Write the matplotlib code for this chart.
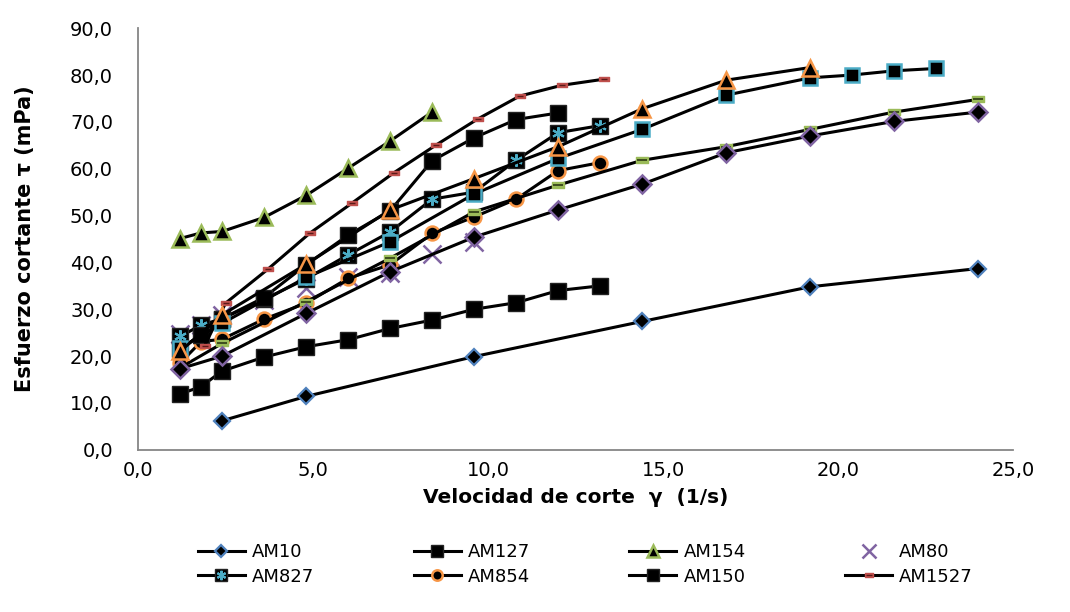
import numpy as np
import matplotlib.pyplot as plt
from matplotlib.path import Path
from matplotlib.ticker import FuncFormatter, MultipleLocator
from matplotlib.legend_handler import HandlerTuple

# Shear rate (1/s) and shear stress (mPa)
am10_x = [2.4, 4.8, 9.6, 14.4, 19.2, 24.0]
am10_y = [6.2, 11.4, 19.9, 27.4, 34.8, 38.7]

am127_x = [1.2, 1.8, 2.4, 3.6, 4.8, 6.0, 7.2, 8.4, 9.6, 10.8, 12.0, 13.2]
am127_y = [11.9, 13.5, 16.8, 19.8, 22.0, 23.5, 25.9, 27.7, 30.0, 31.4, 34.0, 35.0]

am154_x = [1.2, 1.8, 2.4, 3.6, 4.8, 6.0, 7.2, 8.4]
am154_y = [45.1, 46.3, 46.6, 49.6, 54.3, 60.1, 65.9, 72.1]

am80_x = [1.2, 1.8, 2.4, 3.6, 4.8, 6.0, 7.2, 8.4, 9.6]
am80_y = [24.7, 26.7, 28.8, 32.0, 34.6, 36.8, 37.8, 41.8, 44.4]

am827_x = [1.2, 1.8, 2.4, 3.6, 4.8, 6.0, 7.2, 8.4, 9.6, 10.8, 12.0, 13.2]
am827_y = [24.2, 26.6, 28.0, 32.1, 36.5, 41.6, 46.5, 53.5, 55.0, 61.8, 67.7, 69.2]

am854_x = [1.2, 1.8, 2.4, 3.6, 4.8, 6.0, 7.2, 8.4, 9.6, 10.8, 12.0, 13.2]
am854_y = [18.5, 23.1, 23.6, 27.9, 31.3, 36.6, 39.5, 46.2, 49.7, 53.5, 59.6, 61.3]

am150_x = [1.2, 1.8, 2.4, 3.6, 4.8, 6.0, 7.2, 8.4, 9.6, 10.8, 12.0]
am150_y = [21.5, 24.5, 28.0, 32.5, 39.5, 45.8, 51.0, 61.7, 66.6, 70.5, 71.9]

am1527_x = [1.9, 2.5, 3.7, 4.9, 6.1, 7.3, 8.5, 9.7, 10.9, 12.1, 13.3]
am1527_y = [22.2, 31.3, 38.5, 46.2, 52.6, 59.1, 65.0, 70.6, 75.5, 77.8, 79.1]

# series that did not make it into the legend
s9_x = [1.2, 2.4, 4.8, 7.2, 9.6, 12.0, 14.4, 16.8, 19.2, 21.6, 24.0]
s9_y = [17.5, 22.7, 31.6, 40.9, 50.8, 56.5, 61.8, 64.7, 68.4, 72.1, 74.8]

s10_x = [1.2, 2.4, 4.8, 7.2, 9.6, 12.0, 14.4, 16.8, 19.2, 21.6, 24.0]
s10_y = [17.3, 20.0, 29.1, 38.0, 45.4, 51.2, 56.7, 63.4, 67.0, 70.1, 72.1]

s11_x = [1.2, 2.4, 4.8, 7.2, 9.6, 12.0, 14.4, 16.8, 19.2, 20.4, 21.6, 22.8]
s11_y = [21.7, 27.0, 36.8, 44.4, 54.6, 62.2, 68.4, 75.7, 79.4, 80.0, 80.9, 81.4]

s12_x = [1.2, 2.4, 4.8, 7.2, 9.6, 12.0, 14.4, 16.8, 19.2]
s12_y = [21.0, 28.8, 39.6, 51.2, 57.9, 64.7, 72.8, 78.9, 81.6]

blue = '#4F81BD'
green = '#9BBB59'
purple = '#8064A2'
cyan = '#4BACC6'
orange = '#F79646'
red = '#C0504D'

# small flat rectangle used as Excel's "dash" marker
dash = Path([(-1, -0.45), (1, -0.45), (1, 0.45), (-1, 0.45), (-1, -0.45)],
            [Path.MOVETO, Path.LINETO, Path.LINETO, Path.LINETO, Path.CLOSEPOLY])

fig = plt.figure(figsize=(10.7, 6.12), dpi=100)
ax = fig.add_axes([0.129, 0.265, 0.818, 0.689])

lw = 2.2
h = {}

h['AM10'] = ax.plot(am10_x, am10_y, color='black', lw=lw, marker='D', ms=8,
                    mfc='black', mec=blue, mew=1.6)[0]

h['AM127'] = ax.plot(am127_x, am127_y, color='black', lw=lw, marker='s', ms=11,
                     mfc='black', mec='#222222', mew=1)[0]

h['AM154'] = ax.plot(am154_x, am154_y, color='black', lw=lw, marker='^', ms=11,
                     mfc='black', mec=green, mew=1.8)[0]

h['AM80'] = ax.plot(am80_x, am80_y, ls='none', marker='x', ms=13,
                    mec=purple, mew=1.8)[0]

a = ax.plot(am827_x, am827_y, color='black', lw=lw, marker='s', ms=11,
            mfc='black', mec='#222222', mew=1)[0]
b = ax.plot(am827_x, am827_y, ls='none', marker=(6, 2, 0), ms=9,
            mec=cyan, mew=1.5)[0]
h['AM827'] = (a, b)

h['AM854'] = ax.plot(am854_x, am854_y, color='black', lw=lw, marker='o', ms=10,
                     mfc='black', mec=orange, mew=1.8)[0]

h['AM150'] = ax.plot(am150_x, am150_y, color='black', lw=lw, marker='s', ms=11,
                     mfc='black', mec='#222222', mew=1)[0]

a = ax.plot(am1527_x, am1527_y, color='black', lw=lw, marker=dash, ms=7,
            mfc=red, mec=red, mew=1)[0]
b = ax.plot(am1527_x, am1527_y, ls='none', marker='_', ms=5,
            mec='#5a1a18', mew=1)[0]
h['AM1527'] = (a, b)

ax.plot(s9_x, s9_y, color='black', lw=lw, marker=dash, ms=9,
        mfc=green, mec=green, mew=1)
ax.plot(s9_x, s9_y, ls='none', marker='_', ms=7, mec='#2d3a14', mew=1.2)

ax.plot(s10_x, s10_y, color='black', lw=lw, marker='D', ms=9,
        mfc='black', mec=purple, mew=1.8)

ax.plot(s11_x, s11_y, color='black', lw=lw, marker='s', ms=10,
        mfc='black', mec=cyan, mew=1.8)

ax.plot(s12_x, s12_y, color='black', lw=lw, marker='^', ms=12,
        mfc='black', mec=orange, mew=1.8)

ax.set_xlim(0, 25)
ax.set_ylim(0, 90)
ax.xaxis.set_major_locator(MultipleLocator(5))
ax.yaxis.set_major_locator(MultipleLocator(10))
fmt = FuncFormatter(lambda v, p: f"{v:.1f}".replace('.', ','))
ax.xaxis.set_major_formatter(fmt)
ax.yaxis.set_major_formatter(fmt)
ax.tick_params(length=0, labelsize=14, colors='black')
ax.tick_params(axis='y', pad=18)
ax.tick_params(axis='x', pad=8)

for side in ['top', 'right']:
    ax.spines[side].set_visible(False)
for side in ['left', 'bottom']:
    ax.spines[side].set_color('#868686')
    ax.spines[side].set_linewidth(1.3)

ax.set_xlabel('Velocidad de corte  \u03b3  (1/s)', fontsize=14.5, fontweight='bold', labelpad=6)
ax.set_ylabel('Esfuerzo cortante \u03c4 (mPa)', fontsize=15, fontweight='bold', labelpad=25)

# legend is filled column by column, so order it to read row-wise like the original
order = ['AM10', 'AM827', 'AM127', 'AM854', 'AM154', 'AM150', 'AM80', 'AM1527']
fig.legend([h[k] for k in order], order, loc='upper left',
           bbox_to_anchor=(0.185, 0.112), borderpad=0, borderaxespad=0,
           ncol=4, frameon=False, fontsize=13, handlelength=2.6,
           markerscale=0.75, columnspacing=5.5, handletextpad=0.4,
           labelspacing=0.35, handler_map={tuple: HandlerTuple(ndivide=1)})

fig.savefig('out.png', dpi=100)
